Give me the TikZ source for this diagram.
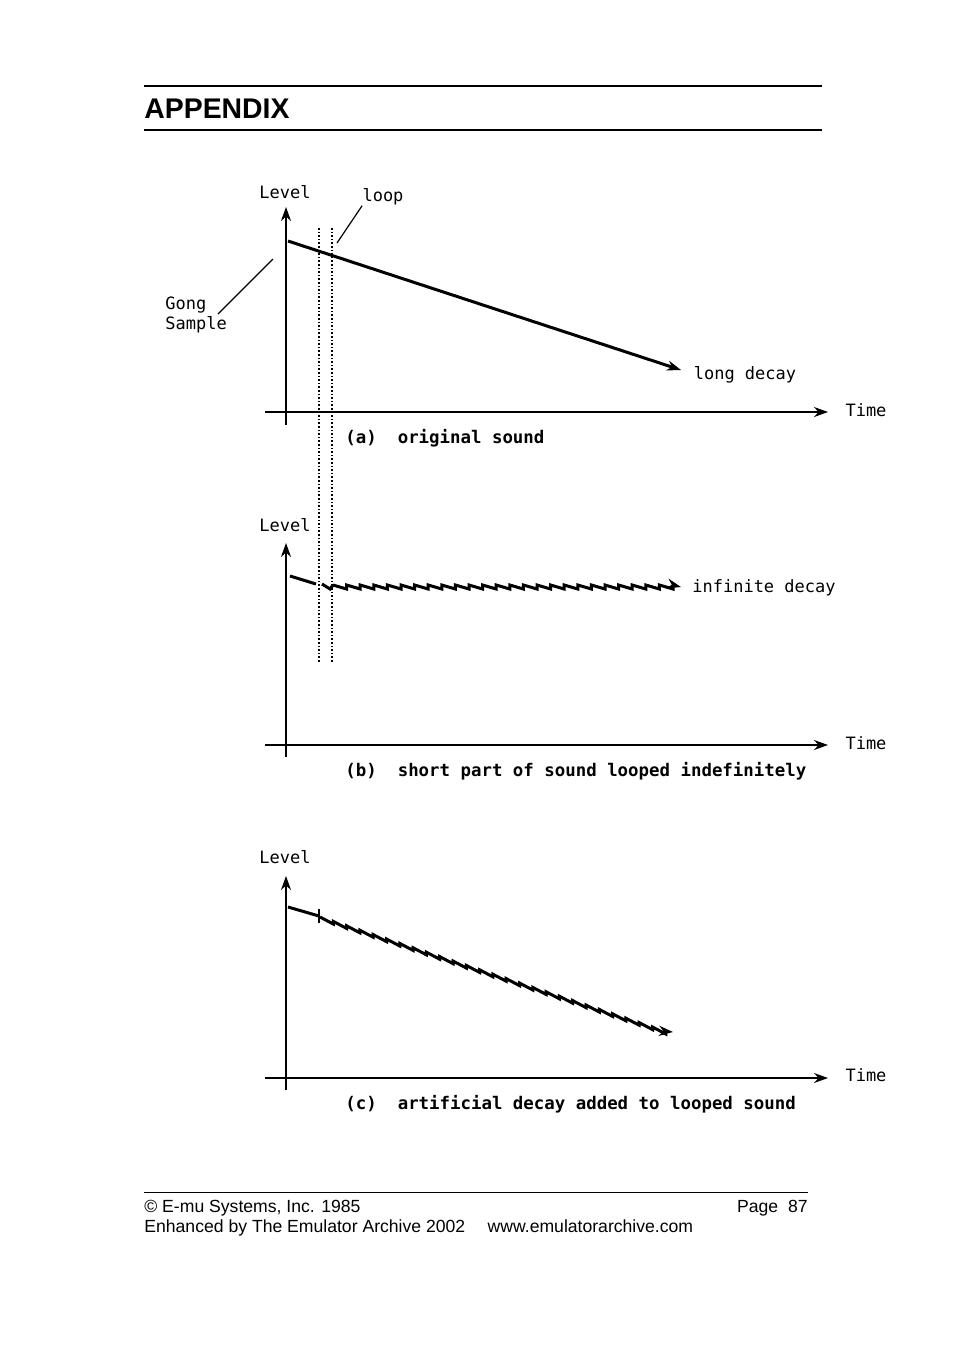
\documentclass[tikz,border=0pt]{standalone}
\usepackage{fontspec}
\setmainfont{Liberation Sans}
\newfontfamily\plotfont{DejaVu Sans Mono}
\usetikzlibrary{arrows.meta}
\begin{document}
\begin{tikzpicture}[x=0.5pt,y=-0.5pt,>={Stealth[length=7pt,width=5pt]}]
    \tikzset{axe/.style={line width=0.9pt,->}}
    \tikzset{signal/.style={line width=1.5pt}}
    \tikzset{boucle/.style={densely dotted,line width=0.8pt}}
    \tikzset{etiquette/.style={font=\plotfont\fontsize{8.5}{10}\selectfont,inner sep=0pt}}
    \tikzset{legende/.style={font=\plotfont\bfseries\fontsize{8.7}{10}\selectfont,inner sep=0pt,anchor=west}}
    \tikzset{pied/.style={font=\fontsize{8.8}{10}\selectfont,inner sep=0pt}}
    \useasboundingbox (0,0) rectangle (954,1351);
    % en-tete
    \draw[line width=1.2pt] (144,86) -- (822,86);
    \node[anchor=base west,inner sep=0pt,font=\bfseries\fontsize{14.2}{16}\selectfont] (titre) at (144,118) {APPENDIX};
    \draw[line width=0.7pt] (144,130) -- (822,130);
    % boucle
    \draw[boucle] (319,228) -- (319,662);
    \draw[boucle] (332,228) -- (332,662);
    % (a)
    \draw[axe] (286,425) -- (286,207);
    \draw[axe] (265,412) -- (828,412);
    \node[etiquette] (levela) at (285,192) {Level};
    \node[etiquette] (timea) at (866,410) {Time};
    \coordinate (sa) at (288,241);
    \coordinate (ea) at (681,370);
    \draw[signal,->] (sa) -- (ea);
    \node[etiquette] (decaya) at (745,375) {long decay};
    \node[etiquette] (loop) at (383,197) {loop};
    \draw[line width=0.6pt] (337,243) -- (loop.south west);
    \node[etiquette,align=left,anchor=west] (gong) at (165,315) {Gong\\Sample};
    \draw[line width=0.6pt] (218,314) -- (273,259);
    \node[legende] (capa) at (345,438) {(a)\ \ original sound};
    % (b)
    \draw[axe] (286,757) -- (286,543);
    \draw[axe] (265,745) -- (828,745);
    \node[etiquette] (levelb) at (285,525) {Level};
    \node[etiquette] (timeb) at (866,743) {Time};
    \draw[signal] (290,576) -- (316,584);
    \draw[signal] (322,584) -- (330,589) -- (333,585);
    \draw[signal,->] (333,585)
      \foreach \i in {0,...,24} { -- ++(13.6,4) -- ++(0,-4) } -- (681,587);
    \node[etiquette] (decayb) at (764,588) {infinite decay};
    \node[legende] (capb) at (345,771) {(b)\ \ short part of sound looped indefinitely};
    % (c)
    \draw[axe] (286,1090) -- (286,876);
    \draw[axe] (265,1078) -- (828,1078);
    \node[etiquette] (levelc) at (285,857) {Level};
    \node[etiquette] (timec) at (866,1075) {Time};
    \draw[signal] (288,907) -- (319,916);
    \draw[line width=0.8pt] (319,909) -- (319,923);
    \draw[signal,->] (320,917)
      \foreach \i in {0,...,25} { -- ++(13.3,7) -- ++(0,-2.6) } -- (673,1032);
    \node[legende] (capc) at (345,1104) {(c)\ \ artificial decay added to looped sound};
    % pied de page
    \draw[line width=0.5pt] (144,1192) -- (808,1192);
    \node[pied,anchor=base west] (copy) at (144,1212) {© E-mu Systems, Inc. 1985};
    \node[pied,anchor=base east] (page) at (808,1212) {Page\ \ 87};
    \node[pied,anchor=base west] (enh) at (144,1232) {Enhanced by The Emulator Archive 2002\quad\ www.emulatorarchive.com};
  \end{tikzpicture}
\end{document}
